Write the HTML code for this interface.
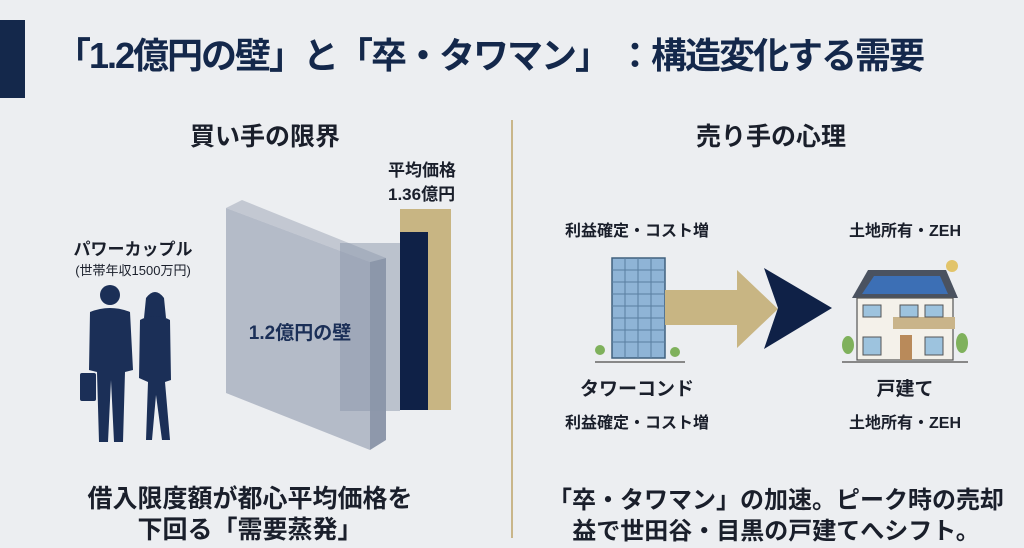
<!DOCTYPE html>
<html><head><meta charset="utf-8"><style>
body{margin:0;width:1024px;height:548px;background:#eceef1;overflow:hidden;position:relative;font-family:"Liberation Sans","Noto Sans CJK JP",sans-serif;color:#1a1f2b}
.t{position:absolute;white-space:nowrap;font-weight:bold}
.c{transform:translateX(-50%)}
</style></head><body>
<div style="position:absolute;left:0;top:20px;width:25px;height:78px;background:#14284b"></div>
<div class="t" style="left:55px;top:27px;font-size:36px;color:#14284b;letter-spacing:-2px">「1.2億円の壁」と「卒・タワマン」 ：構造変化する需要</div>
<div style="position:absolute;left:511px;top:120px;width:2px;height:418px;background:#c9b68a"></div>
<div class="t c" style="left:265px;top:117px;font-size:25px">買い手の限界</div>
<div class="t c" style="left:771px;top:117px;font-size:25px">売り手の心理</div>

<svg style="position:absolute;left:0;top:0" width="1024" height="548">
 <polygon points="226,208 242,200 386,258 370,262" fill="#c3c8d2"/>
 <polygon points="226,208 370,262 370,450 226,393" fill="#aab2c1" opacity=".85"/>
 <polygon points="370,262 386,258 386,440 370,450" fill="#8e98ab"/>
 <rect x="400" y="209" width="51" height="201" fill="#c8b583"/>
 <rect x="400" y="232" width="28" height="178" fill="#0f2147"/>
 <rect x="340" y="243" width="60" height="168" fill="#8a95aa" opacity=".5"/>
 <g fill="#1b2f57">
  <circle cx="110" cy="295" r="10"/>
  <path d="M90 312 Q110 304 130 312 L133 370 L125 372 L123 442 L114 442 L111 380 L108 442 L99 442 L97 372 L89 370 Z"/>
  <rect x="80" y="373" width="16" height="28" rx="2"/>
  <circle cx="155" cy="302" r="9"/>
  <path d="M146 298 Q155 286 164 298 L166 318 L144 318 Z"/>
  <path d="M140 320 Q155 312 170 320 L171 380 L165 382 L170 440 L162 440 L156 395 L152 440 L146 440 L148 382 L139 378 Z"/>
 </g>
 <rect x="612" y="258" width="53" height="100" fill="#8fb4d6" stroke="#40607e" stroke-width="1.5"/>
 <g stroke="#5a7ea0" stroke-width="1">
  <line x1="625" y1="258" x2="625" y2="358"/><line x1="638" y1="258" x2="638" y2="358"/><line x1="651" y1="258" x2="651" y2="358"/>
  <line x1="612" y1="270" x2="665" y2="270"/><line x1="612" y1="282" x2="665" y2="282"/><line x1="612" y1="294" x2="665" y2="294"/><line x1="612" y1="306" x2="665" y2="306"/><line x1="612" y1="318" x2="665" y2="318"/><line x1="612" y1="330" x2="665" y2="330"/><line x1="612" y1="342" x2="665" y2="342"/>
 </g>
 <line x1="595" y1="362" x2="685" y2="362" stroke="#666" stroke-width="1.5"/>
 <circle cx="600" cy="350" r="5" fill="#7fb15c"/><circle cx="675" cy="352" r="5" fill="#7fb15c"/>
 <polygon points="665,290 737,290 737,270 778,309 737,348 737,325 665,325" fill="#c8b583"/>
 <polygon points="764,268 832,308 764,349 778,308" fill="#0f2147"/>
 <polygon points="852,298 868,270 946,270 958,298" fill="#4a5260"/>
 <polygon points="862,294 874,276 940,276 948,294" fill="#3c6fb5"/>
 <rect x="857" y="298" width="96" height="62" fill="#f4f1ea" stroke="#555" stroke-width="1.2"/>
 <rect x="893" y="317" width="62" height="12" fill="#c9b48a"/>
 <rect x="863" y="305" width="18" height="12" fill="#9dc3de" stroke="#555"/>
 <rect x="900" y="305" width="18" height="12" fill="#9dc3de" stroke="#555"/>
 <rect x="925" y="305" width="18" height="12" fill="#9dc3de" stroke="#555"/>
 <rect x="863" y="337" width="18" height="18" fill="#9dc3de" stroke="#555"/>
 <rect x="900" y="335" width="12" height="25" fill="#b98a5a"/>
 <rect x="925" y="337" width="18" height="18" fill="#9dc3de" stroke="#555"/>
 <circle cx="952" cy="266" r="6" fill="#e2c46a"/>
 <line x1="842" y1="362" x2="968" y2="362" stroke="#666" stroke-width="1.5"/>
 <ellipse cx="848" cy="345" rx="6" ry="9" fill="#7fb15c"/><ellipse cx="962" cy="343" rx="6" ry="10" fill="#7fb15c"/>
</svg>

<div class="t" style="left:388px;top:156px;font-size:17px">平均価格</div>
<div class="t" style="left:388px;top:180px;font-size:17px">1.36億円</div>
<div class="t c" style="left:300px;top:318px;font-size:19px;color:#1b2f57">1.2億円の壁</div>
<div class="t c" style="left:133px;top:235px;font-size:17px">パワーカップル</div>
<div class="t c" style="left:133px;top:260px;font-size:13px;font-weight:normal">(世帯年収1500万円)</div>

<div class="t c" style="left:637px;top:217px;font-size:16px">利益確定・コスト増</div>
<div class="t c" style="left:905px;top:217px;font-size:16px">土地所有・ZEH</div>
<div class="t c" style="left:637px;top:374px;font-size:19px">タワーコンド</div>
<div class="t c" style="left:905px;top:374px;font-size:19px">戸建て</div>
<div class="t c" style="left:637px;top:409px;font-size:16px">利益確定・コスト増</div>
<div class="t c" style="left:905px;top:409px;font-size:16px">土地所有・ZEH</div>

<div class="t c" style="left:250px;top:479px;font-size:25px">借入限度額が都心平均価格を</div>
<div class="t c" style="left:250px;top:510px;font-size:25px">下回る「需要蒸発」</div>
<div class="t c" style="left:776px;top:480px;font-size:24px">「卒・タワマン」の加速。ピーク時の売却</div>
<div class="t c" style="left:776px;top:511px;font-size:24px">益で世田谷・目黒の戸建てへシフト。</div>
</body></html>
